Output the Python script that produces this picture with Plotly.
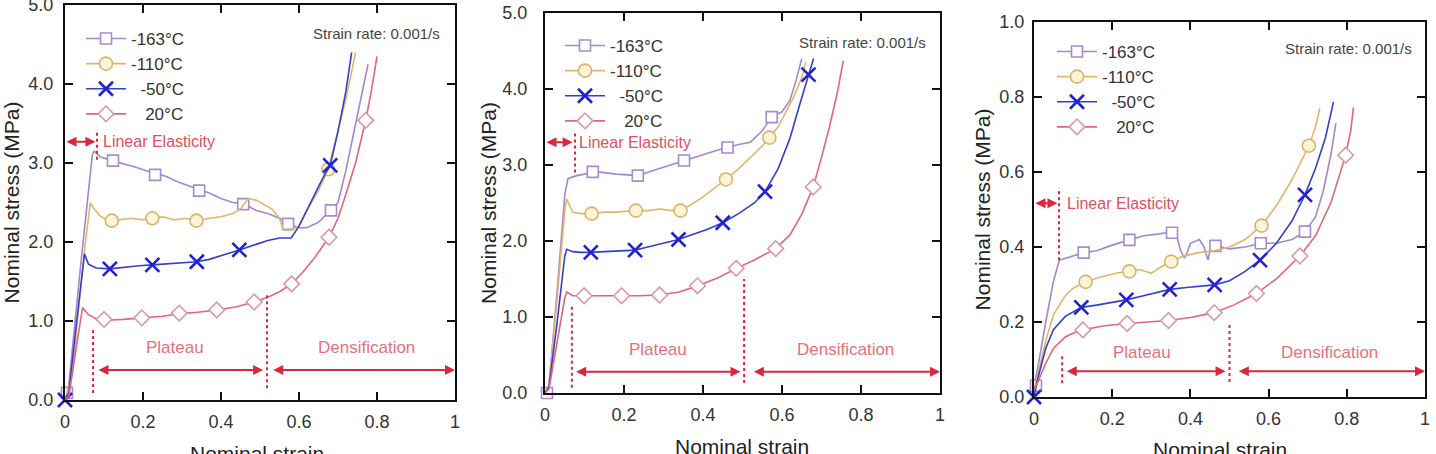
import plotly.graph_objects as go

# ---------------- tick labels / names ----------------
X_TICKS = [0, 0.2, 0.4, 0.6, 0.8, 1.0]
X_TICK_TEXT = ["0", "0.2", "0.4", "0.6", "0.8", "1"]
Y_TICKS_MPA = [0, 1, 2, 3, 4, 5]
Y_TICKS_LOW = [0, 0.2, 0.4, 0.6, 0.8, 1.0]
SERIES = ["-163°C", "-110°C", "-50°C", "20°C"]
LEGEND_LABELS = ["-163°C", "-110°C", "\u00a0\u00a0-50°C", "\u00a0\u00a0\u00a020°C"]

# ---------------- panel 1 ----------------
P1_163_X = [0, 0.01, 0.04, 0.07, 0.075, 0.09, 0.12, 0.15, 0.18, 0.21, 0.23, 0.26, 0.29, 0.32, 0.34, 0.37, 0.40, 0.43, 0.46, 0.49, 0.52, 0.55, 0.57, 0.60, 0.62, 0.65, 0.68, 0.70, 0.72, 0.745, 0.765, 0.777]
P1_163_Y = [0, 0.2, 1.7, 3.1, 3.15, 3.08, 3.03, 2.99, 2.95, 2.90, 2.87, 2.83, 2.76, 2.70, 2.67, 2.62, 2.55, 2.50, 2.48, 2.40, 2.36, 2.30, 2.23, 2.18, 2.18, 2.25, 2.40, 2.50, 2.90, 3.50, 4.00, 4.25]
P1_110_X = [0, 0.02, 0.05, 0.065, 0.07, 0.09, 0.11, 0.14, 0.17, 0.2, 0.22, 0.25, 0.28, 0.31, 0.34, 0.37, 0.4, 0.43, 0.45, 0.47, 0.49, 0.51, 0.53, 0.55, 0.56, 0.58, 0.60, 0.62, 0.65, 0.675, 0.70, 0.72, 0.745]
P1_110_Y = [0, 0.4, 1.9, 2.5, 2.45, 2.33, 2.27, 2.28, 2.3, 2.28, 2.3, 2.32, 2.28, 2.3, 2.27, 2.3, 2.32, 2.36, 2.42, 2.55, 2.53, 2.48, 2.42, 2.3, 2.15, 2.15, 2.2, 2.4, 2.65, 2.92, 3.4, 3.8, 4.4]
P1_50_X = [0, 0.01, 0.03, 0.05, 0.06, 0.08, 0.115, 0.15, 0.19, 0.224, 0.26, 0.3, 0.338, 0.37, 0.41, 0.447, 0.49, 0.52, 0.55, 0.58, 0.60, 0.63, 0.66, 0.68, 0.70, 0.72, 0.735]
P1_50_Y = [0, 0.1, 1.0, 1.85, 1.72, 1.67, 1.66, 1.68, 1.70, 1.71, 1.72, 1.73, 1.75, 1.78, 1.84, 1.9, 1.97, 2.02, 2.05, 2.05, 2.2, 2.5, 2.8, 2.97, 3.4, 3.9, 4.4]
P1_20_X = [0, 0.01, 0.03, 0.045, 0.06, 0.08, 0.1, 0.15, 0.2, 0.25, 0.29, 0.34, 0.39, 0.44, 0.485, 0.52, 0.55, 0.581, 0.61, 0.64, 0.677, 0.70, 0.72, 0.745, 0.771, 0.785, 0.80]
P1_20_Y = [0, 0.05, 0.7, 1.17, 1.08, 1.03, 1.01, 1.02, 1.04, 1.06, 1.09, 1.11, 1.14, 1.18, 1.24, 1.3, 1.37, 1.47, 1.62, 1.8, 2.06, 2.3, 2.6, 3.0, 3.54, 3.9, 4.35]
P1_163_MX = [0.005, 0.123, 0.231, 0.344, 0.457, 0.572, 0.682]
P1_163_MY = [0.09, 3.03, 2.85, 2.65, 2.48, 2.23, 2.40]
P1_110_MX = [0.12, 0.224, 0.337, 0.675]
P1_110_MY = [2.27, 2.30, 2.27, 2.92]
P1_50_MX = [0.0, 0.115, 0.224, 0.338, 0.447, 0.68]
P1_50_MY = [0.0, 1.66, 1.71, 1.75, 1.90, 2.97]
P1_20_MX = [0.10, 0.197, 0.293, 0.389, 0.485, 0.581, 0.677, 0.771]
P1_20_MY = [1.02, 1.04, 1.10, 1.14, 1.24, 1.47, 2.06, 3.54]

# ---------------- panel 2 ----------------
P2_163_X = [0, 0.01, 0.03, 0.05, 0.058, 0.08, 0.1, 0.121, 0.15, 0.18, 0.21, 0.235, 0.27, 0.30, 0.33, 0.352, 0.38, 0.41, 0.44, 0.462, 0.49, 0.52, 0.55, 0.574, 0.60, 0.62, 0.635, 0.65]
P2_163_Y = [0, 0.1, 1.3, 2.6, 2.82, 2.86, 2.88, 2.91, 2.90, 2.88, 2.87, 2.86, 2.92, 2.97, 3.02, 3.06, 3.1, 3.15, 3.2, 3.23, 3.27, 3.3, 3.45, 3.63, 3.7, 3.85, 4.1, 4.4]
P2_110_X = [0, 0.01, 0.03, 0.05, 0.055, 0.07, 0.09, 0.118, 0.15, 0.18, 0.20, 0.23, 0.26, 0.29, 0.32, 0.343, 0.37, 0.40, 0.43, 0.458, 0.49, 0.52, 0.55, 0.568, 0.59, 0.61, 0.63, 0.65, 0.66]
P2_110_Y = [0, 0.1, 1.2, 2.4, 2.55, 2.38, 2.36, 2.36, 2.38, 2.38, 2.39, 2.40, 2.40, 2.42, 2.40, 2.40, 2.48, 2.58, 2.7, 2.81, 2.95, 3.1, 3.25, 3.36, 3.5, 3.7, 3.9, 4.15, 4.35]
P2_50_X = [0, 0.01, 0.03, 0.05, 0.055, 0.07, 0.09, 0.116, 0.15, 0.19, 0.228, 0.26, 0.30, 0.338, 0.37, 0.41, 0.45, 0.49, 0.53, 0.557, 0.59, 0.62, 0.645, 0.667, 0.68]
P2_50_Y = [0, 0.08, 0.9, 1.8, 1.89, 1.86, 1.85, 1.85, 1.86, 1.87, 1.88, 1.92, 1.97, 2.02, 2.08, 2.15, 2.24, 2.36, 2.5, 2.65, 2.95, 3.35, 3.8, 4.19, 4.4]
P2_20_X = [0, 0.01, 0.03, 0.05, 0.055, 0.07, 0.099, 0.14, 0.194, 0.24, 0.29, 0.34, 0.386, 0.44, 0.484, 0.53, 0.584, 0.62, 0.65, 0.679, 0.70, 0.72, 0.74, 0.755]
P2_20_Y = [0, 0.05, 0.65, 1.25, 1.33, 1.28, 1.28, 1.28, 1.28, 1.28, 1.29, 1.33, 1.41, 1.52, 1.64, 1.75, 1.90, 2.08, 2.35, 2.71, 3.1, 3.5, 3.95, 4.37]
P2_163_MX = [0.005, 0.121, 0.235, 0.352, 0.462, 0.574]
P2_163_MY = [0.0, 2.91, 2.86, 3.06, 3.23, 3.63]
P2_110_MX = [0.118, 0.23, 0.343, 0.458, 0.568]
P2_110_MY = [2.36, 2.40, 2.40, 2.81, 3.36]
P2_50_MX = [0.116, 0.228, 0.338, 0.45, 0.557, 0.667]
P2_50_MY = [1.85, 1.88, 2.02, 2.24, 2.65, 4.19]
P2_20_MX = [0.099, 0.194, 0.29, 0.386, 0.484, 0.584, 0.679]
P2_20_MY = [1.28, 1.28, 1.29, 1.41, 1.64, 1.90, 2.71]

# ---------------- panel 3 ----------------
P3_163_X = [0, 0.01, 0.03, 0.05, 0.065, 0.08, 0.1, 0.127, 0.16, 0.2, 0.244, 0.28, 0.32, 0.353, 0.365, 0.375, 0.385, 0.39, 0.40, 0.423, 0.435, 0.445, 0.45, 0.464, 0.5, 0.54, 0.58, 0.62, 0.66, 0.693, 0.72, 0.74, 0.76, 0.772]
P3_163_Y = [0.03, 0.08, 0.2, 0.31, 0.365, 0.37, 0.375, 0.385, 0.39, 0.405, 0.419, 0.43, 0.435, 0.44, 0.43, 0.39, 0.37, 0.38, 0.41, 0.42, 0.40, 0.365, 0.39, 0.403, 0.395, 0.40, 0.41, 0.41, 0.42, 0.441, 0.48, 0.55, 0.65, 0.73]
P3_110_X = [0, 0.01, 0.03, 0.05, 0.08, 0.1, 0.132, 0.17, 0.21, 0.244, 0.27, 0.30, 0.33, 0.351, 0.38, 0.42, 0.46, 0.5, 0.54, 0.582, 0.62, 0.66, 0.703, 0.72, 0.731]
P3_110_Y = [0.02, 0.06, 0.15, 0.22, 0.27, 0.29, 0.307, 0.32, 0.33, 0.335, 0.34, 0.33, 0.35, 0.361, 0.375, 0.385, 0.39, 0.40, 0.42, 0.457, 0.51, 0.58, 0.67, 0.72, 0.77]
P3_50_X = [0, 0.01, 0.03, 0.05, 0.08, 0.121, 0.16, 0.2, 0.236, 0.28, 0.32, 0.347, 0.39, 0.43, 0.462, 0.5, 0.54, 0.578, 0.62, 0.66, 0.693, 0.72, 0.745, 0.766]
P3_50_Y = [0.0, 0.05, 0.13, 0.18, 0.215, 0.239, 0.245, 0.252, 0.259, 0.27, 0.28, 0.287, 0.292, 0.296, 0.299, 0.31, 0.335, 0.365, 0.41, 0.47, 0.539, 0.61, 0.69, 0.787]
P3_20_X = [0, 0.01, 0.03, 0.05, 0.08, 0.1, 0.125, 0.18, 0.238, 0.29, 0.344, 0.4, 0.461, 0.51, 0.569, 0.62, 0.68, 0.72, 0.76, 0.797, 0.81, 0.817]
P3_20_Y = [0.02, 0.04, 0.09, 0.13, 0.16, 0.17, 0.179, 0.19, 0.196, 0.2, 0.204, 0.212, 0.225, 0.245, 0.276, 0.315, 0.376, 0.43, 0.52, 0.645, 0.71, 0.772]
P3_163_MX = [0.005, 0.127, 0.244, 0.353, 0.464, 0.58, 0.693]
P3_163_MY = [0.03, 0.385, 0.419, 0.438, 0.403, 0.41, 0.441]
P3_110_MX = [0.132, 0.244, 0.351, 0.582, 0.703]
P3_110_MY = [0.307, 0.335, 0.361, 0.457, 0.67]
P3_50_MX = [0.0, 0.121, 0.236, 0.347, 0.462, 0.578, 0.693]
P3_50_MY = [0.0, 0.239, 0.259, 0.287, 0.299, 0.365, 0.539]
P3_20_MX = [0.125, 0.238, 0.344, 0.461, 0.569, 0.68, 0.797]
P3_20_MY = [0.179, 0.196, 0.204, 0.225, 0.276, 0.376, 0.645]

# ---------------- region markers (data coords) ----------------
# [arrow_end_x, arrow_y, dotted_x, dotted_y0, dotted_y1, text_x]
ELASTIC = [[0.078, 3.27, 0.082, 3.04, 3.42, 0.092],
           [0.070, 3.30, 0.076, 2.90, 3.44, 0.082],
           [0.060, 0.517, 0.064, 0.365, 0.557, 0.078]]
# [dot1_x, dot1_y0, dot1_y1, dot2_x, dot2_y0, dot2_y1, arrow_y, a1_x0, a1_x1, a2_x0, a2_x1, label_y]
REGIONS = [[0.072, 0.09, 0.91, 0.518, 0.15, 1.35, 0.38, 0.082, 0.508, 0.53, 1.0, 0.66],
           [0.068, 0.07, 1.14, 0.504, 0.13, 1.50, 0.28, 0.075, 0.495, 0.525, 1.0, 0.57],
           [0.072, 0.037, 0.117, 0.50, 0.04, 0.20, 0.069, 0.08, 0.49, 0.52, 1.0, 0.12]]
PLATEAU_X = [0.282, 0.286, 0.277]
DENS_X = [0.774, 0.76, 0.757]
Y_MAX = [5.0, 5.0, 1.0]
Y_TICKS = [Y_TICKS_MPA, Y_TICKS_MPA, Y_TICKS_LOW]

PANELS = [
    {"curves": [(P1_163_X, P1_163_Y), (P1_110_X, P1_110_Y), (P1_50_X, P1_50_Y), (P1_20_X, P1_20_Y)],
     "marks": [(P1_163_MX, P1_163_MY), (P1_110_MX, P1_110_MY), (P1_50_MX, P1_50_MY), (P1_20_MX, P1_20_MY)]},
    {"curves": [(P2_163_X, P2_163_Y), (P2_110_X, P2_110_Y), (P2_50_X, P2_50_Y), (P2_20_X, P2_20_Y)],
     "marks": [(P2_163_MX, P2_163_MY), (P2_110_MX, P2_110_MY), (P2_50_MX, P2_50_MY), (P2_20_MX, P2_20_MY)]},
    {"curves": [(P3_163_X, P3_163_Y), (P3_110_X, P3_110_Y), (P3_50_X, P3_50_Y), (P3_20_X, P3_20_Y)],
     "marks": [(P3_163_MX, P3_163_MY), (P3_110_MX, P3_110_MY), (P3_50_MX, P3_50_MY), (P3_20_MX, P3_20_MY)]},
]

# ---------------- styles ----------------
FONT = "Liberation Sans, Arial, sans-serif"
LINE_COLORS = ["#a487cc", "#e2b56a", "#3340cc", "#e0667a"]
MARK_LINE = ["#a68bd0", "#d9b36e", "#2222d0", "#d99aa6"]
MARK_FILL = ["#ffffff", "#fdf5d6", "#2222d0", "#ffffff"]
SYMBOLS = ["square", "circle", "x-thin-open", "diamond"]
SIZES = [11, 13, 14, 12]
RED = "#d9283c"
TEXT_RED = "#e2505e"

X_DOMAINS = [[65 / 1436, 455 / 1436], [545 / 1436, 940 / 1436], [1034 / 1436, 1425 / 1436]]
Y_DOMAINS = [[54 / 454, 449 / 454], [61 / 454, 441 / 454], [57 / 454, 432 / 454]]
LEGEND_POS = [(81 / 1436, 1 - 21 / 454), (560 / 1436, 1 - 28 / 454), (1052 / 1436, 1 - 34 / 454)]
RATE_POS = [(376, 33), (862, 43), (1348, 48)]
XTITLE_POS = [(257, 440), (742, 433), (1220, 436)]
YTITLE_STANDOFF = [8, 0, 3]
YLABEL_STANDOFF = [6, 12, 4]

fig = go.Figure()
layout_extra = {}
for p, panel in enumerate(PANELS):
    xa = "x" if p == 0 else f"x{p + 1}"
    ya = "y" if p == 0 else f"y{p + 1}"
    leg = "legend" if p == 0 else f"legend{p + 1}"
    for s in range(4):
        cx, cy = panel["curves"][s]
        mx, my = panel["marks"][s]
        mk = dict(symbol=SYMBOLS[s], size=SIZES[s], color=MARK_FILL[s],
                  line=dict(color=MARK_LINE[s], width=1.6 if s != 2 else 2.6))
        fig.add_trace(go.Scatter(x=cx, y=cy, mode="lines", xaxis=xa, yaxis=ya,
                                 line=dict(color=LINE_COLORS[s], width=1.6),
                                 showlegend=False, hoverinfo="skip"))
        fig.add_trace(go.Scatter(x=mx, y=my, mode="markers", xaxis=xa, yaxis=ya, cliponaxis=False,
                                 marker=mk, showlegend=False, name=SERIES[s]))
        fig.add_trace(go.Scatter(x=[None], y=[None], mode="lines+markers", xaxis=xa, yaxis=ya,
                                 name=LEGEND_LABELS[s], legend=leg,
                                 line=dict(color=LINE_COLORS[s], width=1.6), marker=mk))

    axis_common = dict(showline=True, linecolor="#111", linewidth=2, mirror="ticks", ticks="inside",
                       ticklen=8, tickwidth=2, tickcolor="#111", showgrid=False, zeroline=False,
                       automargin=False, ticklabeloverflow="allow",
                       tickfont=dict(family=FONT, size=18, color="#333"))
    layout_extra["xaxis" if p == 0 else f"xaxis{p + 1}"] = dict(
        axis_common, domain=X_DOMAINS[p], anchor=ya, range=[0, 1], tickvals=X_TICKS, ticktext=X_TICK_TEXT,
        ticklabelstandoff=4)
    layout_extra["yaxis" if p == 0 else f"yaxis{p + 1}"] = dict(
        axis_common, domain=Y_DOMAINS[p], anchor=xa, range=[0, Y_MAX[p]], tickvals=Y_TICKS[p],
        tickformat=".1f", ticklabelstandoff=YLABEL_STANDOFF[p],
        title=dict(text="Nominal stress (MPa)", font=dict(family=FONT, size=21, color="#222"),
                   standoff=YTITLE_STANDOFF[p]))
    layout_extra[leg] = dict(x=LEGEND_POS[p][0], y=LEGEND_POS[p][1], xanchor="left", yanchor="top",
                             bgcolor="rgba(0,0,0,0)", borderwidth=0, itemwidth=40,
                             font=dict(family=FONT, size=17, color="#333"))

fig.update_layout(**layout_extra)

shapes = []
annotations = []
for p in range(3):
    xr = "x" if p == 0 else f"x{p + 1}"
    yr = "y" if p == 0 else f"y{p + 1}"
    ex, ey, dx, dy0, dy1, tx = ELASTIC[p]
    r = REGIONS[p]
    for (lx, ly0, ly1) in [(dx, dy0, dy1), (r[0], r[1], r[2]), (r[3], r[4], r[5])]:
        shapes.append(dict(type="line", xref=xr, yref=yr, x0=lx, x1=lx, y0=ly0, y1=ly1,
                           line=dict(color=RED, width=2, dash="dot")))
    for (ax0, ax1, ay) in [(0.0, ex, ey), (r[7], r[8], r[6]), (r[9], r[10], r[6])]:
        annotations.append(dict(xref=xr, yref=yr, axref=xr, ayref=yr, x=ax1, y=ay, ax=ax0, ay=ay,
                                text="", showarrow=True, arrowhead=2, arrowside="end+start",
                                arrowsize=1, arrowwidth=2, arrowcolor=RED, standoff=0, startstandoff=0))
    annotations.append(dict(xref=xr, yref=yr, x=tx, y=ey, text="Linear Elasticity", showarrow=False,
                            xanchor="left", font=dict(family=FONT, size=16, color=TEXT_RED)))
    annotations.append(dict(xref=xr, yref=yr, x=PLATEAU_X[p], y=r[11], text="Plateau", showarrow=False,
                            font=dict(family=FONT, size=17, color="#e6707a")))
    annotations.append(dict(xref=xr, yref=yr, x=DENS_X[p], y=r[11], text="Densification", showarrow=False,
                            font=dict(family=FONT, size=17, color="#e6707a")))
    annotations.append(dict(xref="paper", yref="paper", x=RATE_POS[p][0] / 1436, y=1 - RATE_POS[p][1] / 454,
                            text="Strain rate: 0.001/s", showarrow=False, xanchor="center", yanchor="middle",
                            font=dict(family=FONT, size=15, color="#444")))
    annotations.append(dict(xref="paper", yref="paper", x=XTITLE_POS[p][0] / 1436, y=1 - XTITLE_POS[p][1] / 454,
                            text="Nominal strain", showarrow=False, xanchor="center", yanchor="top",
                            font=dict(family=FONT, size=21, color="#222")))

fig.update_layout(width=1436, height=454, margin=dict(l=0, r=0, t=0, b=0),
                  paper_bgcolor="white", plot_bgcolor="white", shapes=shapes, annotations=annotations,
                  font=dict(family=FONT))

fig.write_html("out.html")
